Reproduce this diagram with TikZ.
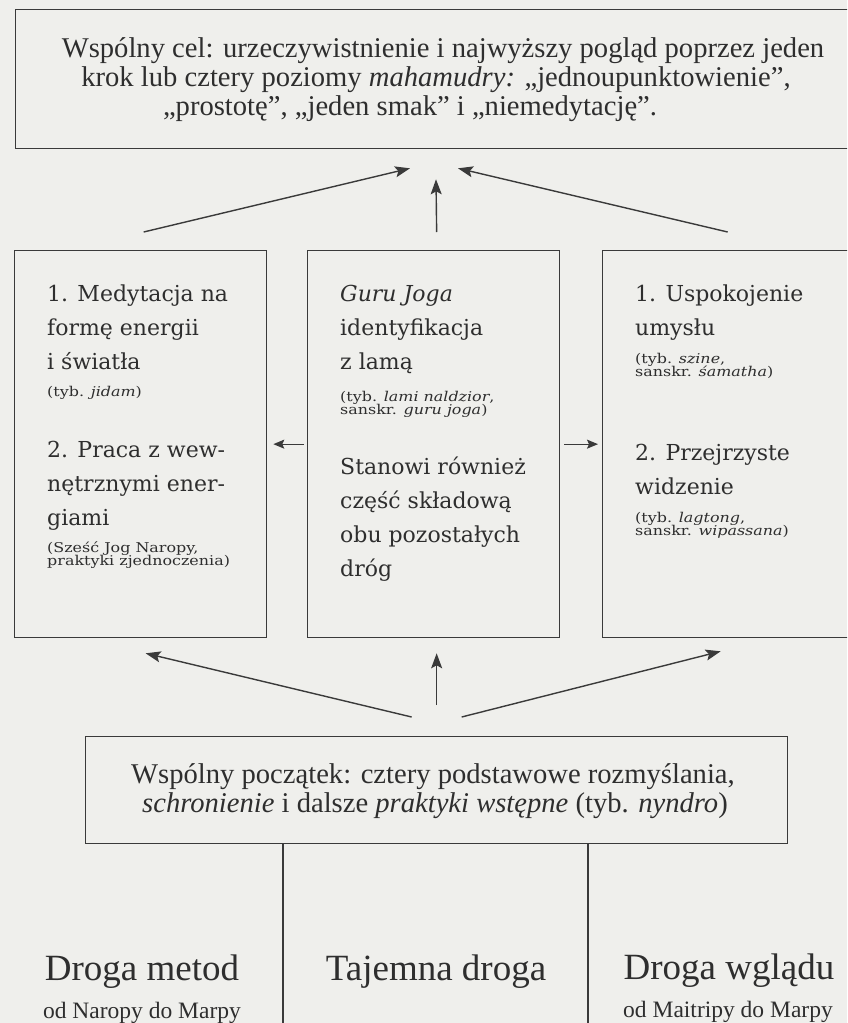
\documentclass[tikz,border=0pt]{standalone}
\usepackage{fontspec}
\setmainfont{Liberation Serif}
\newfontfamily\midfont{DejaVu Serif}
\newfontfamily\smallfont[FakeStretch=1.18]{DejaVu Serif}
\usetikzlibrary{arrows.meta,calc}
\definecolor{paper}{HTML}{EFEFEC}
\definecolor{ink}{HTML}{2E2E2E}
\definecolor{rule}{HTML}{3A3A3A}
\begin{document}
\begin{tikzpicture}[x=1pt,y=-1pt,
  frame/.style={draw=rule, line width=1.3pt, inner sep=0pt, anchor=north west},
  arr/.style={draw=rule, line width=1.4pt, -{Stealth[length=15pt,width=11pt,inset=3pt]}},
  harr/.style={draw=rule, line width=1.3pt, -{Stealth[length=11pt,width=9pt,inset=2pt]}},
  big/.style={font=\fontsize{28.6}{29}\selectfont, text=ink, inner sep=0pt, anchor=base},
  lab/.style={font=\fontsize{37}{38}\selectfont, text=ink, inner sep=0pt, anchor=base},
  sub/.style={font=\fontsize{23.5}{24}\selectfont, text=ink, inner sep=0pt, anchor=base},
  mid/.style={font=\midfont\fontsize{22}{34}\selectfont, text=ink, inner sep=0pt, anchor=base west},
  small/.style={font=\smallfont\fontsize{13.5}{13}\selectfont, text=ink, inner sep=0pt, anchor=base west}]
\useasboundingbox (0,0) rectangle (847,1023);
\clip (0,0) rectangle (847,1023);
\fill[paper] (0,0) rectangle (847,1023);

% boxes
\node[frame, minimum width=870pt, minimum height=139pt] (goal) at (15,9) {};
\node[frame, minimum width=252pt, minimum height=387pt] (meth) at (14,250) {};
\node[frame, minimum width=252pt, minimum height=387pt] (guru) at (307,250) {};
\node[frame, minimum width=270pt, minimum height=387pt] (ins) at (602,250) {};
\node[frame, minimum width=702pt, minimum height=107pt] (start) at (85,736) {};

% goal text
\node[big] (g1) at (443,57) {Wspólny cel: urzeczywistnienie i najwyższy pogląd poprzez jeden};
\node[big] (g2) at (436,86) {krok lub cztery poziomy \textit{mahamudry:} „jednoupunktowienie”,};
\node[big] (g3) at (410,115) {„prostotę”, „jeden smak” i „niemedytację”.};

% method box text
\node[mid] (m1) at (47,301) {1. Medytacja na};
\node[mid] (m2) at (47,335) {formę energii};
\node[mid] (m3) at (47,369) {i światła};
\node[small] (m4) at (47,396) {(tyb. \textit{jidam})};
\node[mid] (m5) at (47,457) {2. Praca z wew-};
\node[mid] (m6) at (47,491) {nętrznymi ener-};
\node[mid] (m7) at (47,525) {giami};
\node[small] (m8) at (47,552) {(Sześć Jog Naropy,};
\node[small] (m9) at (47,565) {praktyki zjednoczenia)};

% guru box text
\node[mid] (u1) at (340,301) {\textit{Guru Joga}};
\node[mid] (u2) at (340,335) {identyfikacja};
\node[mid] (u3) at (340,369) {z lamą};
\node[small] (u4) at (340,401) {(tyb. \textit{lami naldzior},};
\node[small] (u5) at (340,414) {sanskr. \textit{guru joga})};
\node[mid] (u6) at (340,474) {Stanowi również};
\node[mid] (u7) at (340,508) {część składową};
\node[mid] (u8) at (340,542) {obu pozostałych};
\node[mid] (u9) at (340,576) {dróg};

% insight box text
\node[mid] (i1) at (635,301) {1. Uspokojenie};
\node[mid] (i2) at (635,335) {umysłu};
\node[small] (i3) at (635,363) {(tyb. \textit{szine},};
\node[small] (i4) at (635,376) {sanskr. \textit{śamatha})};
\node[mid] (i5) at (635,460) {2. Przejrzyste};
\node[mid] (i6) at (635,494) {widzenie};
\node[small] (i7) at (635,522) {(tyb. \textit{lagtong},};
\node[small] (i8) at (635,535) {sanskr. \textit{wipassana})};

% start text
\node[big] (s1) at (433,783) {Wspólny początek: cztery podstawowe rozmyślania,};
\node[big] (s2) at (435,812) {\textit{schronienie} i dalsze \textit{praktyki wstępne} (tyb. \textit{nyndro})};

% bottom labels
\node[lab] (dm) at (142,980) {Droga metod};
\node[sub] (dmn) at (142,1018) {od Naropy do Marpy};
\node[lab] (td) at (436,980) {Tajemna droga};
\node[lab] (dw) at (729,979) {Droga wglądu};
\node[sub] (dwn) at (728,1017) {od Maitripy do Marpy};

% dividing lines
\coordinate (v1) at (283,1030);
\coordinate (v2) at (588,1030);
\draw[rule, line width=1.3pt] (start.south -| v1) -- (v1);
\draw[rule, line width=1.3pt] (start.south -| v2) -- (v2);

% arrows to goal
\draw[arr] ($(meth.north)+(3,-18)$) -- ($(goal.south west)+(395,19)$);
\draw[arr] ($(guru.north)+(3,-18)$) -- ($(goal.south west)+(421,30)$);
\draw[arr] ($(ins.north)+(-10,-18)$) -- ($(goal.south west)+(443,19)$);

% arrows from start
\draw[arr] ($(start.north)+(-25,-19)$) -- ($(meth.south)+(5,15)$);
\draw[arr] ($(start.north)+(0,-31)$) -- ($(guru.south)+(3,15)$);
\draw[arr] ($(start.north)+(25,-19)$) -- ($(ins.south)+(-17,13)$);

% horizontal arrows
\draw[harr] ($(guru.west)+(-3,0)$) -- ($(meth.east)+(6,0)$);
\draw[harr] ($(guru.east)+(4,0)$) -- ($(ins.west)+(-4,0)$);
\end{tikzpicture}
\end{document}
